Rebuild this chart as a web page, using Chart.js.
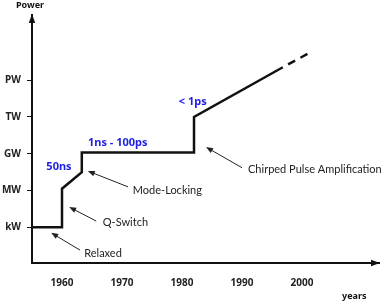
<!DOCTYPE html>
<html>
<head>
<meta charset="utf-8">
<script src="https://cdn.jsdelivr.net/npm/chart.js@4/dist/chart.umd.min.js"></script>
<style>
  html, body { margin: 0; padding: 0; background: #fff; }
  #wrap { width: 386px; height: 308px; }
</style>
</head>
<body>
<div id="wrap"><canvas id="_canvasc"></canvas></div>
<script>
	// ******************************************************** DATA

	var powerLabels = ["kW", "MW", "GW", "TW", "PW"];
	var yearTicks = [1960, 1970, 1980, 1990, 2000];

	// solid history line (year, power level index)
	var lineYears  = [1955, 1960, 1960, 1963.3, 1963.3, 1982, 1982, 1996.8];
	var lineLevels = [0, 0, 1.05, 1.5, 2.03, 2.03, 3.0, 4.35];

	// dashed extrapolation
	var dashYears  = [1996.8, 2001];
	var dashLevels = [4.35, 4.72];

	// labels on the curve
	var pulseTexts  = ["50ns", "1ns - 100ps", "< 1ps"];
	var pulseYears  = [1959.5, 1969.3, 1981.8];
	var pulseLevels = [1.64, 2.29, 3.40];

	// technique notes with arrows
	var noteTexts  = ["Chirped Pulse Amplification", "Mode-Locking", "Q-Switch", "Relaxed"];
	var noteYears  = [1991, 1971.8, 1966.8, 1963.7];
	var noteLevels = [1.56, 1.01, 0.14, -0.70];
	var arrowFrom  = [[1990, 1.62], [1971, 1.10], [1965.7, 0.17], [1963, -0.62]];
	var arrowTo    = [[1984, 2.18], [1964.3, 1.53], [1961.2, 0.55], [1958.2, -0.15]];

	function pts(xs, ys) {
		return xs.map(function (x, i) { return { x: x, y: ys[i] }; });
	}

	// ******************************************************** PLUGIN

	var FONT = "Lato, 'Noto Sans', sans-serif";
	var BOLD = "'Noto Sans', sans-serif";

	function arrowHead(ctx, x, y, ang, len, half) {
		ctx.beginPath();
		ctx.moveTo(x, y);
		ctx.lineTo(x - len * Math.cos(ang) + half * Math.sin(ang), y - len * Math.sin(ang) - half * Math.cos(ang));
		ctx.lineTo(x - len * Math.cos(ang) - half * Math.sin(ang), y - len * Math.sin(ang) + half * Math.cos(ang));
		ctx.closePath();
		ctx.fill();
	}

	var decor = {
		id: 'decor',
		afterDraw: function (chart) {
			var ctx = chart.ctx, a = chart.chartArea;
			var xs = chart.scales.x, ys = chart.scales.y;
			ctx.save();
			ctx.fillStyle = "#111";
			ctx.strokeStyle = "#111";

			// axis arrows
			arrowHead(ctx, a.left, a.top - 1, -Math.PI / 2, 9, 3.2);
			arrowHead(ctx, a.right + 1, a.bottom, 0, 9, 3.2);

			// axis titles
			ctx.font = "bold 9px " + BOLD;
			ctx.textAlign = "left";
			ctx.textBaseline = "middle";
			ctx.fillText("Power", 16, 5);
			ctx.fillText("years", 342, 296);

			// blue pulse duration labels
			ctx.fillStyle = "#2020e8";
			ctx.font = "bold 11px " + BOLD;
			ctx.textAlign = "center";
			pulseTexts.forEach(function (t, i) {
				ctx.fillText(t, xs.getPixelForValue(pulseYears[i]), ys.getPixelForValue(pulseLevels[i]));
			});

			// notes and arrows
			ctx.fillStyle = "#222";
			ctx.strokeStyle = "#222";
			ctx.font = "11px " + FONT;
			ctx.textAlign = "left";
			ctx.lineWidth = 1;
			noteTexts.forEach(function (t, i) {
				ctx.fillText(t, xs.getPixelForValue(noteYears[i]), ys.getPixelForValue(noteLevels[i]));
				var x0 = xs.getPixelForValue(arrowFrom[i][0]), y0 = ys.getPixelForValue(arrowFrom[i][1]);
				var x1 = xs.getPixelForValue(arrowTo[i][0]), y1 = ys.getPixelForValue(arrowTo[i][1]);
				var ang = Math.atan2(y1 - y0, x1 - x0);
				ctx.beginPath();
				ctx.moveTo(x0, y0);
				ctx.lineTo(x1 - 5 * Math.cos(ang), y1 - 5 * Math.sin(ang));
				ctx.stroke();
				arrowHead(ctx, x1, y1, ang, 7, 2.8);
			});
			ctx.restore();
		}
	};

	// ******************************************************** CHART

	var _ctxc = document.getElementById("_canvasc").getContext("2d");

	window.myChart = new Chart(_ctxc, {
		type: 'line',
		data: {
			datasets: [{
				data: pts(lineYears, lineLevels),
				borderColor: '#111',
				borderWidth: 2.5,
				pointRadius: 0,
				tension: 0,
				borderJoinStyle: 'miter'
			}, {
				data: pts(dashYears, dashLevels),
				borderColor: '#111',
				borderWidth: 2.5,
				borderDash: [8, 6],
				borderDashOffset: 8,
				pointRadius: 0,
				tension: 0
			}]
		},
		options: {
			responsive: true,
			maintainAspectRatio: false,
			animation: false,
			layout: { padding: { left: 0, top: 15, right: 7, bottom: 0 } },
			plugins: { legend: { display: false }, tooltip: { enabled: false } },
			scales: {
				x: {
					type: 'linear',
					min: 1955,
					max: 2012.83,
					afterBuildTicks: function (s) { s.ticks = yearTicks.map(function (v) { return { value: v }; }); },
					afterFit: function (s) { s.height = 45; },
					grid: { display: true, drawOnChartArea: false, drawTicks: false },
					border: { display: true, color: '#111', width: 2 },
					ticks: {
						padding: 14,
						maxRotation: 0,
						color: '#222',
						font: { family: BOLD, size: 10, weight: 'bold' },
						callback: function (v) { return String(v); }
					}
				},
				y: {
					type: 'linear',
					min: -0.97,
					max: 5.77,
					afterBuildTicks: function (s) { s.ticks = powerLabels.map(function (v, i) { return { value: i }; }); },
					afterFit: function (s) { s.width = 32; },
					grid: { display: true, drawOnChartArea: false, drawTicks: true, tickLength: 5, tickWidth: 1, color: '#111' },
					border: { display: true, color: '#111', width: 2 },
					ticks: {
						padding: 6,
						color: '#222',
						font: { family: BOLD, size: 10, weight: 'bold' },
						callback: function (v) { return powerLabels[v]; }
					}
				}
			}
		},
		plugins: [decor]
	});
</script>
</body>
</html>
